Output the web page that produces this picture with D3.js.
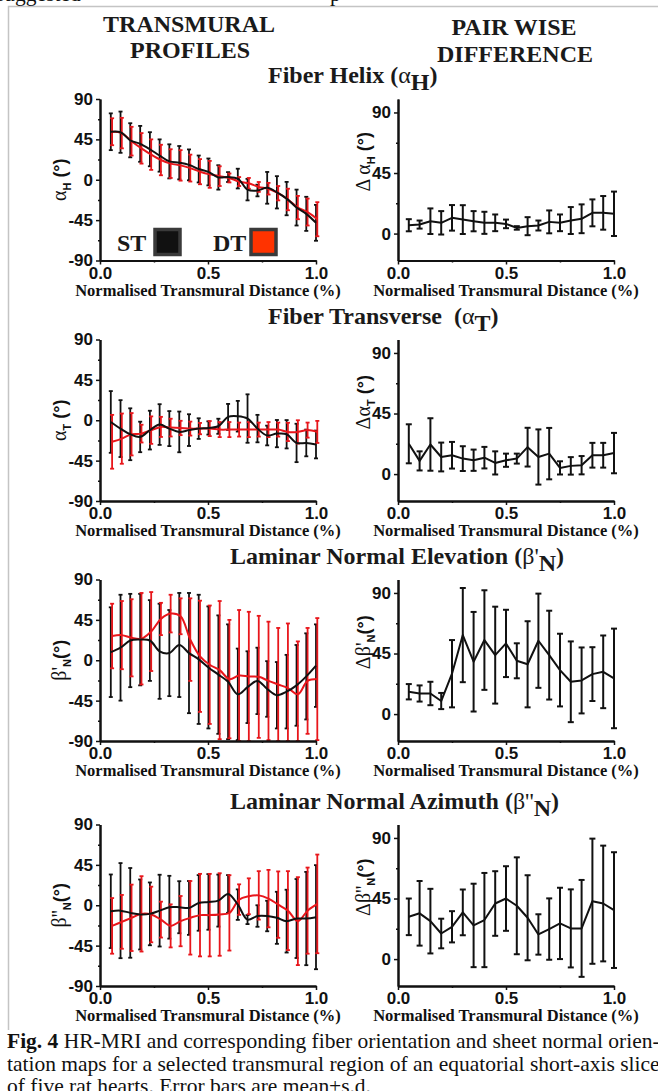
<!DOCTYPE html>
<html>
<head>
<meta charset="utf-8">
<script src="https://d3js.org/d3.v7.min.js"></script>
<style>
  body { margin: 0; background: #fff; }
  svg { display: block; }
  .tick text { font-family: "Liberation Sans", Arial, sans-serif; font-weight: bold; font-size: 17px; fill: #111; }
  .serif { font-family: "Liberation Serif", "Times New Roman", serif; }
  .head { font-family: "Liberation Serif", "Times New Roman", serif; font-weight: bold; font-size: 24px; fill: #1a1a1a; }
  .xlab { font-family: "Liberation Serif", "Times New Roman", serif; font-weight: bold; font-size: 16.5px; fill: #111; }
  .cap { font-family: "Liberation Serif", "Times New Roman", serif; font-size: 21.5px; fill: #111; }
</style>
</head>
<body>
<script>
// x positions (normalised transmural distance)
let xProfile = [0.05, 0.095, 0.14, 0.186, 0.231, 0.276, 0.321, 0.367, 0.412, 0.457, 0.502,
                0.548, 0.593, 0.638, 0.683, 0.729, 0.774, 0.819, 0.864, 0.91, 0.955, 1.0];
let xDiff = [0.05, 0.1, 0.15, 0.2, 0.25, 0.3, 0.35, 0.4, 0.45, 0.5,
             0.55, 0.6, 0.65, 0.7, 0.75, 0.8, 0.85, 0.9, 0.95, 1.0];

// Fiber helix
let helixSTMean = [53.5, 53, 44, 40, 34, 27, 20.5, 19, 16.6, 12, 8.7, 2.6, 3, 1.3, -11, -12, -9, -14, -21, -31, -38, -48];
let helixSTSd   = [20.5, 23, 19, 20, 19, 18, 19, 18.6, 17.2, 15, 15, 13.6, 5.5, 11, 12, 6.5, 17.7, 18, 18.6, 20, 19, 20];
let helixDTMean = [53.5, 52, 43, 35, 28, 22, 18, 16, 13, 9, 6, 4, 2, -2, -4, -8, -10, -15, -22, -31, -36, -44];
let helixDTSd   = [15, 17, 16, 17, 17, 17, 16, 17, 15, 14, 15, 11, 5, 5, 6, 5.5, 6.5, 8, 12, 13, 15, 19];
let helixDiffMean = [6.2, 6.7, 9.2, 8, 11.7, 10.4, 9.2, 8, 8, 7.2, 4.2, 5.5, 6, 8.7, 8, 9.7, 11, 15.4, 15.4, 14.7];
let helixDiffSd   = [4.5, 3, 9.5, 8.7, 9.5, 10.7, 7.5, 8.2, 6.2, 3.2, 1.3, 6.7, 3.7, 8.5, 6.2, 10, 10.7, 10, 12.5, 16.5];

// Fiber transverse
let transSTMean = [-1.9, -9.3, -15.6, -18.6, -11, -4.8, -9.3, -13, -11, -9.3, -8.6, -6.7, 3.7, 4.5, 1.9, -9.3, -17, -14.9, -15.6, -25.3, -25.3, -27];
let transSTSd   = [34.4, 31.7, 28.9, 17, 21.6, 22.7, 19.5, 22.7, 17.7, 11.5, 7.4, 8.4, 14.5, 17.1, 27, 15.3, 11, 15.2, 15.8, 21.4, 14.9, 15.5];
let transDTMean = [-24, -20.5, -15.6, -14.9, -11, -7.4, -8.2, -8.6, -9.3, -9.3, -9.3, -10.4, -10.4, -10.4, -10.4, -10.4, -10.4, -10.4, -13, -13, -11, -13];
let transDTSd   = [30, 28, 23.6, 9.9, 15.3, 11.2, 9.9, 8, 7.8, 6.3, 8.4, 8.4, 8.4, 7.8, 8.4, 7.8, 8.4, 7.8, 10.2, 13, 8.4, 12.3];
let transDiffMean = [22.5, 9.8, 22, 12.7, 14, 11.5, 10.3, 12.2, 8.3, 10.3, 11.5, 20, 12.7, 15.2, 4.6, 6.1, 6.6, 14, 14, 15.6];
let transDiffSd   = [14.5, 7.1, 19.5, 10.7, 9.9, 9.2, 7.9, 8, 8.6, 4.9, 3.7, 14.4, 20.5, 19.1, 4.9, 6.5, 6.8, 9.2, 9.2, 15];

// Laminar normal elevation
let elevSTMean = [9, 14, 22, 23, 22, 10, 8, 17, 8, 1, -8, -16, -24, -38, -30, -23, -32, -39, -35, -28, -18, -6];
let elevSTSd   = [50, 59, 52, 51, 45, 53, 48, 58, 67, 72, 68, 66, 64, 51, 40, 37, 31, 37, 41, 45, 48, 46];
let elevDTMean = [27, 28, 25, 24, 32, 46, 52, 49, 23, 4.4, -5, -11, -21, -17, -18, -18.5, -23, -27, -31, -38, -23, -21];
let elevDTSd   = [36, 38, 43, 51, 44, 18, 21, 20, 46, 62, 66, 77, 66, 73, 72, 68, 66, 63, 72, 59, 59, 68];
let elevDiffMean = [16.6, 15.3, 15.3, 9.7, 30, 58.7, 38.9, 55, 43.8, 52.5, 39.6, 37, 54.5, 43.8, 32.7, 24, 25, 29.7, 31.4, 26.5];
let elevDiffSd   = [5.7, 6, 8.7, 6, 25, 35, 37, 37, 36, 25, 13, 32, 35, 33, 27, 30, 24.5, 20, 27, 37];

// Laminar normal azimuth
let azimSTMean = [-6.7, -6, -8.5, -10.3, -9.6, -6, -2.2, -2.2, -3, 2.6, 3.7, 5.2, 12.6, 0.7, -16, -12, -12, -14, -17.7, -14.8, -14.8, -13.3];
let azimSTSd   = [41, 53, 50, 39, 35, 40, 35, 29, 30, 31, 31, 29, 21, 17, 5, 12, 17, 29, 35, 44, 52, 58];
let azimDTMean = [-23, -18.5, -14, -9.6, -10.3, -16, -23, -17.7, -14, -11, -11, -10.3, -8.5, 6.3, 10, 11, 7.4, 0.7, -6, -17.7, -6, 1.5];
let azimDTSd   = [31, 30, 37, 42, 31, 20, 24, 28, 41, 46, 46, 46, 42, 17, 20, 27, 32, 37, 44, 49, 48, 55];
let azimDiffMean = [31.4, 34, 28.2, 19, 24, 34.7, 25, 29, 41.3, 45, 39.6, 30.7, 18.3, 22.3, 26.5, 22.8, 22.8, 43, 41.3, 36.4];
let azimDiffSd   = [13.6, 24, 24, 11, 11.6, 17, 31, 35, 24, 24, 36, 31.6, 15, 22.8, 26.5, 29, 36, 46.5, 43, 43];

// tick labels
let profileTicks = [-90, -45, 0, 45, 90];
let profileMinor = [-67.5, -22.5, 22.5, 67.5];
let diffTicks = [0, 45, 90];
let diffMinor = [22.5, 67.5];
let xTicks = [0, 0.5, 1.0];
let xMinor = [0.25, 0.75];

// section titles: [text before greek, greek, subscript]
let sectionTitles = [
    ["Fiber Helix (", "\u03b1", "H"],
    ["Fiber Transverse\u00a0 (", "\u03b1", "T"],
    ["Laminar Normal Elevation (", "\u03b2'", "N"],
    ["Laminar Normal Azimuth (", "\u03b2''", "N"]
];
let leftLabels = [["\u03b1", "H", " (\u00b0)"], ["\u03b1", "T", " (\u00b0)"], ["\u03b2'", "N", "(\u00b0)"], ["\u03b2''", "N", "(\u00b0)"]];
let rightLabels = [["\u0394 \u03b1", "H", " (\u00b0)"], ["\u0394\u03b1", "T", " (\u00b0)"], ["\u0394\u03b2'", "N", "(\u00b0)"], ["\u0394\u03b2''", "N", "(\u00b0)"]];
let xTitle = "Normalised Transmural Distance (%)";
let captionLines = [
    ["Fig. 4", " HR-MRI and corresponding fiber orientation and sheet normal orien-"],
    ["", "tation maps for a selected transmural region of an equatorial short-axis slice"],
    ["", "of five rat hearts. Error bars are mean\u00b1s.d."]
];

let black = "#111", red = "#e8161b";

// layout
let rowTops = [99, 339.5, 579.5, 824.5];
let plotH = 161.5;
let leftRange = [100, 316], rightRange = [398, 614];
let titleX = [268, 268, 230, 230];

let svg = d3.select("body").append("svg")
    .attr("width", 658)
    .attr("height", 1091);

// frame of the figure image and cut-off text of the page above
svg.append("path").attr("d", "M8.5,1030V6.5H658").attr("fill", "none")
    .attr("stroke", "#c4c4c4").attr("stroke-width", 1.5);
svg.append("text").attr("class", "cap").attr("x", -4).attr("y", 1).text("suggested");
svg.append("text").attr("class", "cap").attr("x", 330).attr("y", 1).text("p");

// column headers
svg.append("text").attr("class", "head").attr("x", 189).attr("y", 32).attr("text-anchor", "middle").text("TRANSMURAL");
svg.append("text").attr("class", "head").attr("x", 190).attr("y", 58).attr("text-anchor", "middle").text("PROFILES");
svg.append("text").attr("class", "head").attr("x", 514).attr("y", 35).attr("text-anchor", "middle").text("PAIR WISE");
svg.append("text").attr("class", "head").attr("x", 515).attr("y", 62).attr("text-anchor", "middle").text("DIFFERENCE");

let fmtY = d => String(d);

function drawAxes(g, x, y, major, minor, top) {
    g.append("g").attr("transform", `translate(0,${top + plotH})`)
        .call(d3.axisBottom(x).tickValues(xTicks).tickFormat(d3.format(".1f")).tickSize(4).tickSizeOuter(0).tickPadding(2));
    g.append("g").attr("transform", `translate(0,${top + plotH})`)
        .call(d3.axisBottom(x).tickValues(xMinor).tickFormat("").tickSize(2).tickSizeOuter(0));
    g.append("g").attr("transform", `translate(${x.range()[0]},0)`)
        .call(d3.axisLeft(y).tickValues(major).tickFormat(fmtY).tickSize(4).tickSizeOuter(0).tickPadding(3));
    g.append("g").attr("transform", `translate(${x.range()[0]},0)`)
        .call(d3.axisLeft(y).tickValues(minor).tickFormat("").tickSize(2).tickSizeOuter(0));
    g.selectAll(".domain").attr("stroke", black).attr("stroke-width", 2);
    g.selectAll(".tick line").attr("stroke", black).attr("stroke-width", 1.5);
    g.append("text").attr("class", "xlab").attr("x", (x.range()[0] + x.range()[1]) / 2)
        .attr("y", top + plotH + 35).attr("text-anchor", "middle").text(xTitle);
}

function errorBars(g, xs, mean, sd, x, y, color, cap, width) {
    let bars = g.append("g").attr("stroke", color).attr("stroke-width", width);
    xs.forEach((xv, i) => {
        let px = x(xv), hi = y(mean[i] + sd[i]), lo = y(mean[i] - sd[i]);
        bars.append("line").attr("x1", px).attr("x2", px).attr("y1", hi).attr("y2", lo);
        bars.append("line").attr("x1", px - cap).attr("x2", px + cap).attr("y1", hi).attr("y2", hi);
        bars.append("line").attr("x1", px - cap).attr("x2", px + cap).attr("y1", lo).attr("y2", lo);
    });
}

function meanLine(g, xs, mean, x, y, color, curve) {
    let line = d3.line().x((d, i) => x(xs[i])).y(d => y(d)).curve(curve);
    g.append("path").attr("d", line(mean)).attr("fill", "none")
        .attr("stroke", color).attr("stroke-width", 2).attr("stroke-linejoin", "round");
}

function yLabel(px, py, parts) {
    let t = svg.append("text").attr("transform", `translate(${px},${py}) rotate(-90)`)
        .attr("text-anchor", "middle").attr("fill", "#111");
    t.append("tspan").attr("class", "serif").attr("font-size", 20).text(parts[0]);
    t.append("tspan").attr("font-family", "Liberation Sans, Arial, sans-serif").attr("font-weight", "bold")
        .attr("font-size", 11).attr("dy", 5).text(parts[1]);
    t.append("tspan").attr("font-family", "Liberation Sans, Arial, sans-serif").attr("font-weight", "bold")
        .attr("font-size", 18).attr("dy", -5).text(parts[2]);
}

function profilePanel(r, stMean, stSd, dtMean, dtSd) {
    let top = rowTops[r];
    let g = svg.append("g");
    let x = d3.scaleLinear().domain([0, 1]).range(leftRange);
    let y = d3.scaleLinear().domain([-90, 90]).range([top + plotH, top]).clamp(true);
    errorBars(g, xProfile, stMean, stSd, x, y, black, 2, 1.8);
    let xr = d3.scaleLinear().domain([0, 1]).range([leftRange[0] + 1.3, leftRange[1] + 1.3]);
    errorBars(g, xProfile, dtMean, dtSd, xr, y, red, 2, 1.8);
    meanLine(g, xProfile, dtMean, xr, y, red, d3.curveCatmullRom);
    meanLine(g, xProfile, stMean, x, y, black, d3.curveCatmullRom);
    drawAxes(g, x, y, profileTicks, profileMinor, top);
    yLabel(66, top + plotH / 2, leftLabels[r]);
}

function diffPanel(r, mean, sd) {
    let top = rowTops[r];
    let g = svg.append("g");
    let x = d3.scaleLinear().domain([0, 1]).range(rightRange);
    let y = d3.scaleLinear().domain([-20, 100]).range([top + plotH, top]);
    errorBars(g, xDiff, mean, sd, x, y, black, 3, 2);
    meanLine(g, xDiff, mean, x, y, black, d3.curveLinear);
    drawAxes(g, x, y, diffTicks, diffMinor, top);
    yLabel(370, top + plotH / 2 - 18, rightLabels[r]);
}

function sectionTitle(r) {
    let t = svg.append("text").attr("x", titleX[r]).attr("y", rowTops[r] - 16).attr("class", "head");
    t.append("tspan").text(sectionTitles[r][0]);
    t.append("tspan").attr("font-weight", "normal").text(sectionTitles[r][1]);
    t.append("tspan").attr("dy", 7).text(sectionTitles[r][2]);
    t.append("tspan").attr("dy", -7).text(")");
}

profilePanel(0, helixSTMean, helixSTSd, helixDTMean, helixDTSd);
diffPanel(0, helixDiffMean, helixDiffSd);
profilePanel(1, transSTMean, transSTSd, transDTMean, transDTSd);
diffPanel(1, transDiffMean, transDiffSd);
profilePanel(2, elevSTMean, elevSTSd, elevDTMean, elevDTSd);
diffPanel(2, elevDiffMean, elevDiffSd);
profilePanel(3, azimSTMean, azimSTSd, azimDTMean, azimDTSd);
diffPanel(3, azimDiffMean, azimDiffSd);
[0, 1, 2, 3].forEach(sectionTitle);

// legend (ST / DT) inside the helix profile panel
let legend = svg.append("g");
[["ST", black, 117], ["DT", "#ff3300", 213]].forEach(([name, fill, lx]) => {
    legend.append("text").attr("class", "head").attr("x", lx).attr("y", 251).text(name);
    legend.append("rect").attr("x", lx + 38).attr("y", 229.5).attr("width", 25).attr("height", 25)
        .attr("fill", fill).attr("stroke", "#3a3a3a").attr("stroke-width", 3.5);
});

// caption
captionLines.forEach((ln, i) => {
    let t = svg.append("text").attr("class", "cap").attr("x", 7).attr("y", 1048 + i * 22.5);
    if (ln[0]) t.append("tspan").attr("font-weight", "bold").text(ln[0]);
    t.append("tspan").text(ln[1]);
});
</script>
</body>
</html>
